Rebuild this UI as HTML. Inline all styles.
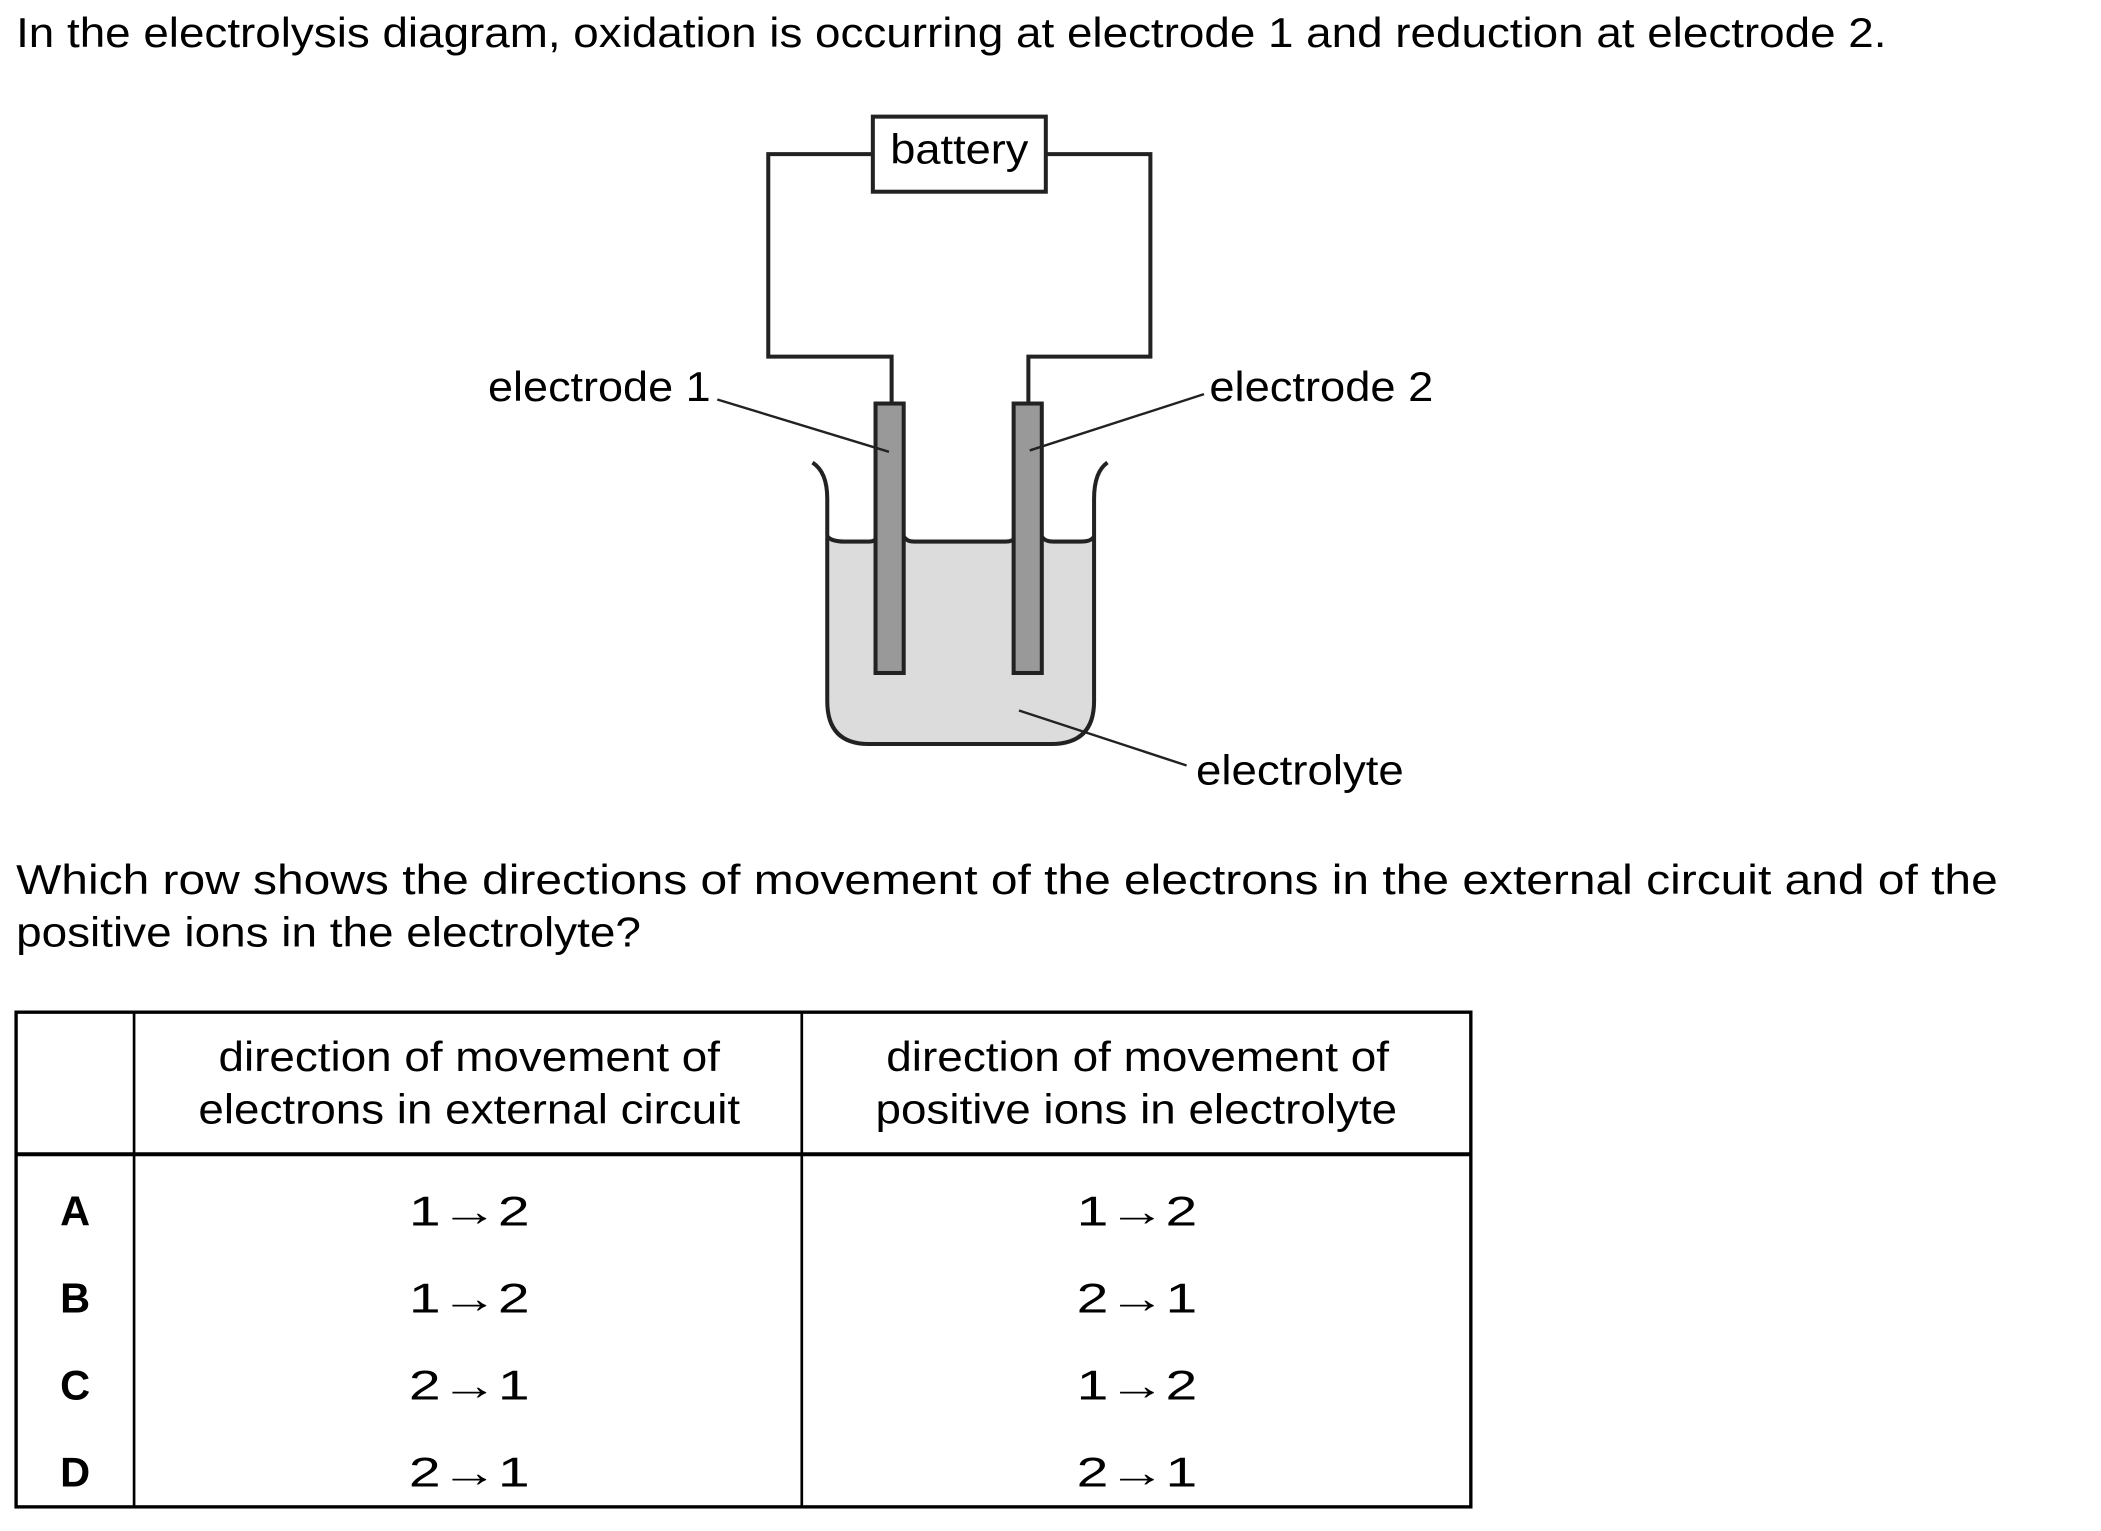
<!DOCTYPE html>
<html><head><style>
html,body{margin:0;padding:0;background:#fff;}
svg{display:block;}
text{font-family:"Liberation Sans",Arial,sans-serif;fill:#000;}
</style></head><body>
<svg width="2101" height="1531" viewBox="0 0 1567 1142" preserveAspectRatio="none" xmlns="http://www.w3.org/2000/svg">
<g font-size="31" lengthAdjust="spacingAndGlyphs">
<text x="12" y="35" textLength="1395" lengthAdjust="spacingAndGlyphs">In the electrolysis diagram, oxidation is occurring at electrode 1 and reduction at electrode 2.</text>

<g fill="none" stroke="#222" stroke-width="3">
<polyline points="651,115 573,115 573,266 665,266 665,301"/>
<polyline points="780,115 858,115 858,266 767,266 767,301"/>
<rect x="651" y="87" width="129" height="56" fill="#fff"/>
</g>
<text x="664" y="122" textLength="103" lengthAdjust="spacingAndGlyphs">battery</text>

<path d="M617,402 L816,402 L816,523 Q816,555 784,555 L648,555 Q617,555 617,523 Z" fill="#dcdcdc"/>
<g fill="none" stroke="#222" stroke-width="3">
<path d="M606,345 Q617,352 617,372 L617,523 Q617,555 648,555 L784,555 Q816,555 816,523 L816,372 Q816,352 826,345"/>
<path d="M617,400 Q620,404 630,404 L648,404 Q653,404 655,400"/>
<path d="M674,400 Q676,404 682,404 L750,404 Q756,404 758,400"/>
<path d="M777,400 Q779,404 786,404 L806,404 Q814,404 816,400"/>
</g>
<rect x="653" y="301" width="21" height="201" fill="#999" stroke="#222" stroke-width="3"/>
<rect x="756" y="301" width="21" height="201" fill="#999" stroke="#222" stroke-width="3"/>

<g stroke="#222" stroke-width="1.8">
<line x1="535" y1="298" x2="663" y2="337"/>
<line x1="898" y1="294" x2="768" y2="336"/>
<line x1="760" y1="530" x2="885" y2="571"/>
</g>
<text x="364" y="299" textLength="166" lengthAdjust="spacingAndGlyphs">electrode 1</text>
<text x="902" y="299" textLength="167" lengthAdjust="spacingAndGlyphs">electrode 2</text>
<text x="892" y="585" textLength="155" lengthAdjust="spacingAndGlyphs">electrolyte</text>

<text x="12" y="667" textLength="1478" lengthAdjust="spacingAndGlyphs">Which row shows the directions of movement of the electrons in the external circuit and of the</text>
<text x="12" y="706" textLength="466" lengthAdjust="spacingAndGlyphs">positive ions in the electrolyte?</text>

<g stroke="#000" fill="none">
<rect x="12" y="755" width="1085" height="369" stroke-width="2.5"/>
<line x1="100" y1="755" x2="100" y2="1124" stroke-width="2"/>
<line x1="598" y1="755" x2="598" y2="1124" stroke-width="2"/>
<line x1="12" y1="861" x2="1097" y2="861" stroke-width="3"/>
</g>
<text x="163" y="799" textLength="374" lengthAdjust="spacingAndGlyphs">direction of movement of</text>
<text x="148" y="838" textLength="404" lengthAdjust="spacingAndGlyphs">electrons in external circuit</text>
<text x="661" y="799" textLength="375" lengthAdjust="spacingAndGlyphs">direction of movement of</text>
<text x="653" y="838" textLength="389" lengthAdjust="spacingAndGlyphs">positive ions in electrolyte</text>
<g font-weight="bold" text-anchor="middle">
<text x="56" y="914">A</text>
<text x="56" y="979">B</text>
<text x="56" y="1044">C</text>
<text x="56" y="1109">D</text>
</g>
<g font-family="DejaVu Sans, sans-serif">
<text x="305" y="914" textLength="90" lengthAdjust="spacingAndGlyphs">1→2</text>
<text x="305" y="979" textLength="90" lengthAdjust="spacingAndGlyphs">1→2</text>
<text x="305" y="1044" textLength="90" lengthAdjust="spacingAndGlyphs">2→1</text>
<text x="305" y="1109" textLength="90" lengthAdjust="spacingAndGlyphs">2→1</text>
<text x="803" y="914" textLength="90" lengthAdjust="spacingAndGlyphs">1→2</text>
<text x="803" y="979" textLength="90" lengthAdjust="spacingAndGlyphs">2→1</text>
<text x="803" y="1044" textLength="90" lengthAdjust="spacingAndGlyphs">1→2</text>
<text x="803" y="1109" textLength="90" lengthAdjust="spacingAndGlyphs">2→1</text>
</g>
</g>
</svg>
</body></html>
